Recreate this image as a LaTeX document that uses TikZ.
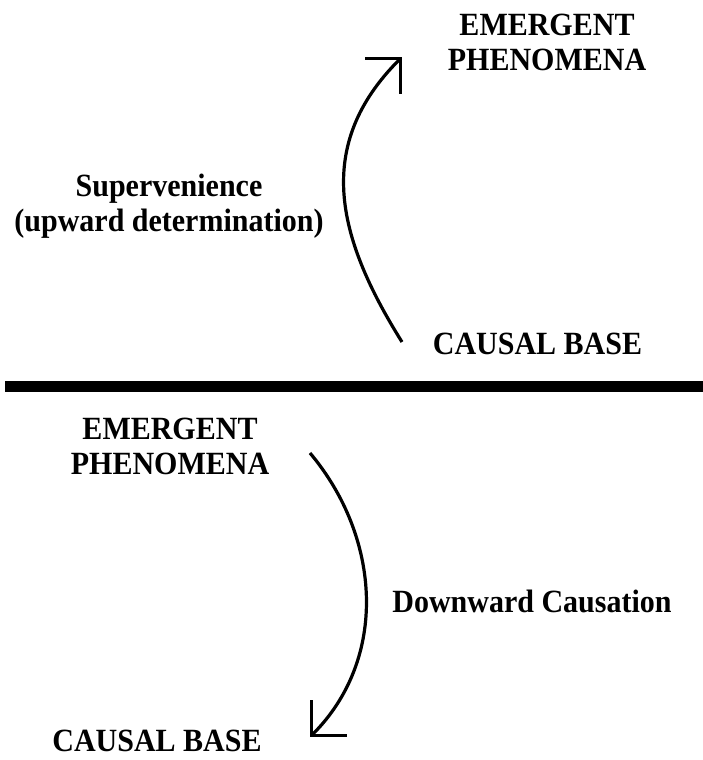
\documentclass[tikz,border=0pt]{standalone}
\usepackage{fontspec}
\setmainfont{Liberation Serif}
\usetikzlibrary{arrows.meta}
% slightly tall bold lettering
\newcommand\tallcaps[1]{\scalebox{1}[1.08]{#1}}
% two centred lines whose baseline is the first line's
\newcommand\twoline[2]{\vtop{\halign{\hfil##\hfil\cr #1\cr #2\cr}}}
\begin{document}
\begin{tikzpicture}[x=1pt,y=1pt,
  termtext/.style={inner sep=0pt, anchor=base,
    font=\fontsize{30}{32.4}\selectfont\bfseries},
  arcline/.style={line width=3.2pt,
    -{Straight Barb[length=25pt,width=50pt]}}]
  \useasboundingbox (0,0) rectangle (703,760);

  % upper panel: supervenience
  \node[termtext] (upEmergent) at (547,724)
    {\tallcaps{\twoline{EMERGENT}{PHENOMENA}}};
  \node[termtext] (supervenience) at (169,563)
    {\tallcaps{\twoline{Supervenience}{(upward determination)}}};
  \node[termtext] (upBase) at (537.5,405) {\tallcaps{CAUSAL BASE}};
  \coordinate (upStart) at (402,418);
  \coordinate (upEnd) at (402,703);
  \draw[arcline] (upStart) to[out=122,in=225,looseness=1.12] (upEnd);

  % dividing bar
  \fill (5,368) rectangle (703,379);

  % lower panel: downward causation
  \node[termtext] (downEmergent) at (170,320)
    {\tallcaps{\twoline{EMERGENT}{PHENOMENA}}};
  \node[termtext] (downward) at (532,147) {\tallcaps{Downward Causation}};
  \node[termtext] (downBase) at (157,8) {\tallcaps{CAUSAL BASE}};
  \coordinate (downStart) at (310,307);
  \coordinate (downEnd) at (310,23);
  \draw[arcline] (downStart) to[out=-50,in=45] (downEnd);
\end{tikzpicture}
\end{document}
